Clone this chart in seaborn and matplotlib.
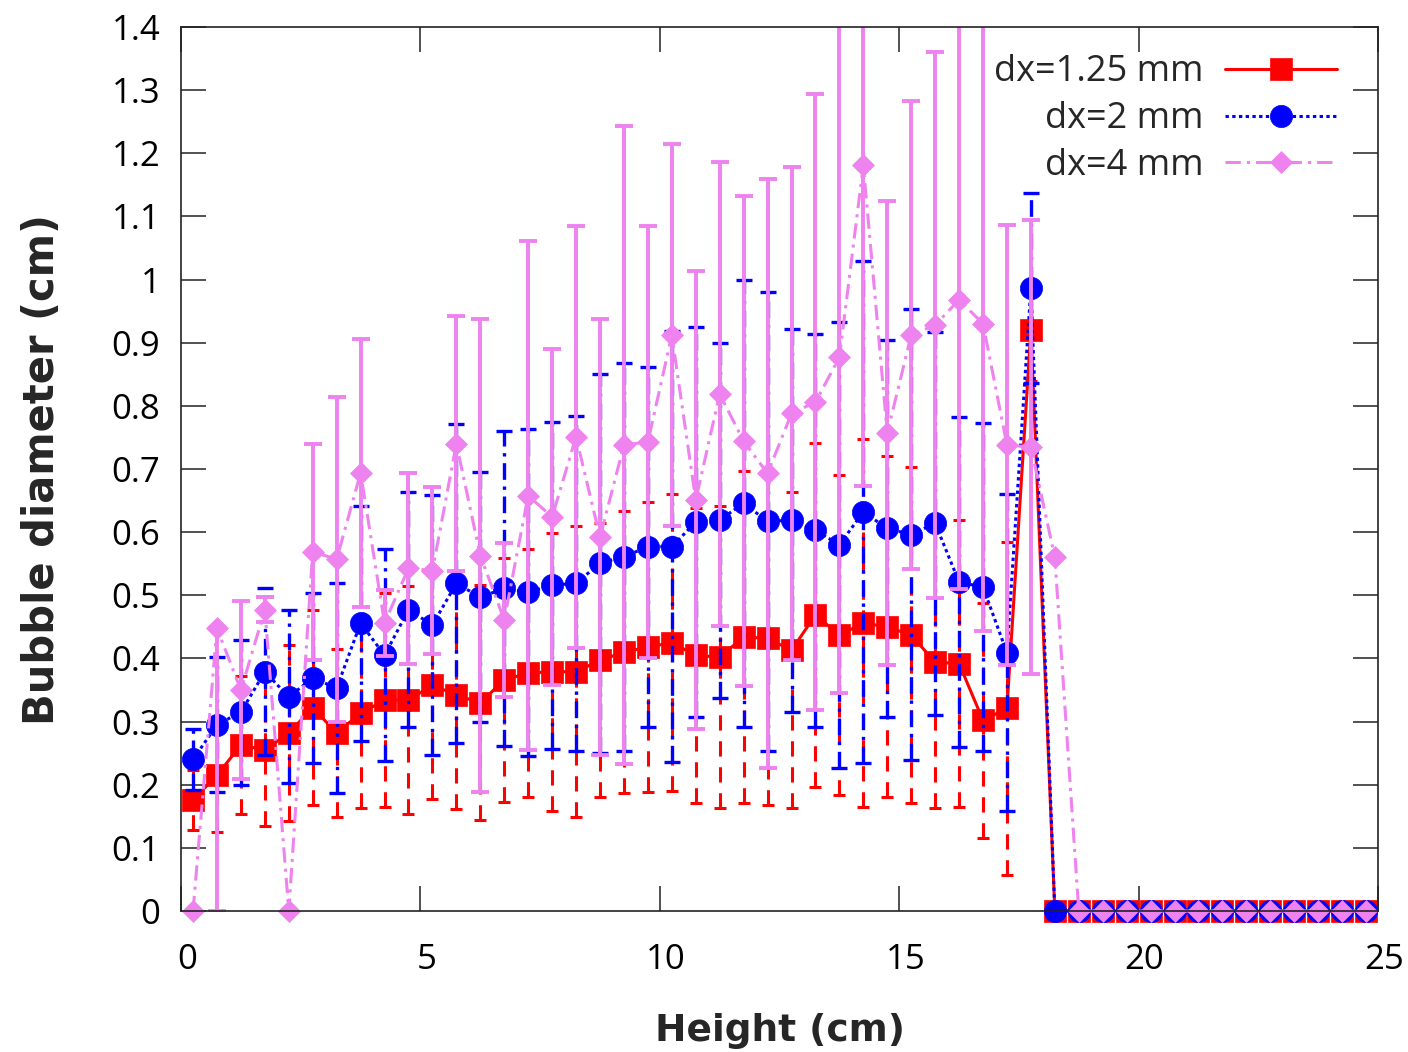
import matplotlib
matplotlib.use("Agg")
import matplotlib.pyplot as plt
import matplotlib.transforms as mtransforms
import numpy as np
import seaborn as sns

# Bubble diameter along the column height, three grid resolutions
height = [0.25, 0.75, 1.25, 1.75, 2.25, 2.75, 3.25, 3.75, 4.25, 4.75,
          5.25, 5.75, 6.25, 6.75, 7.25, 7.75, 8.25, 8.75, 9.25, 9.75,
          10.25, 10.75, 11.25, 11.75, 12.25, 12.75, 13.25, 13.75, 14.25, 14.75,
          15.25, 15.75, 16.25, 16.75, 17.25, 17.75, 18.25, 18.75, 19.25, 19.75,
          20.25, 20.75, 21.25, 21.75, 22.25, 22.75, 23.25, 23.75, 24.25, 24.75]

d125_mean = [0.176, 0.215, 0.263, 0.255, 0.282, 0.322, 0.282, 0.313, 0.334, 0.334,
             0.358, 0.342, 0.330, 0.366, 0.377, 0.379, 0.379, 0.397, 0.410, 0.418,
             0.425, 0.405, 0.402, 0.434, 0.432, 0.413, 0.469, 0.437, 0.456, 0.450,
             0.437, 0.394, 0.392, 0.302, 0.321, 0.920, 0, 0, 0, 0,
             0, 0, 0, 0, 0, 0, 0, 0, 0, 0]
d125_err = [0.048, 0.090, 0.110, 0.120, 0.140, 0.154, 0.133, 0.150, 0.170, 0.180,
            0.180, 0.180, 0.186, 0.193, 0.197, 0.220, 0.230, 0.217, 0.223, 0.229,
            0.235, 0.234, 0.239, 0.263, 0.264, 0.250, 0.273, 0.253, 0.291, 0.270,
            0.266, 0.231, 0.227, 0.186, 0.264, 0.080, 0, 0, 0, 0,
            0, 0, 0, 0, 0, 0, 0, 0, 0, 0]

d2_mean = [0.240, 0.295, 0.315, 0.379, 0.339, 0.369, 0.353, 0.456, 0.405, 0.477,
           0.453, 0.519, 0.497, 0.511, 0.505, 0.516, 0.519, 0.551, 0.561, 0.577,
           0.577, 0.616, 0.619, 0.646, 0.617, 0.619, 0.603, 0.580, 0.632, 0.606,
           0.596, 0.614, 0.521, 0.513, 0.409, 0.987, 0, 0, 0, 0,
           0, 0, 0, 0, 0, 0, 0, 0, 0, 0]
d2_err = [0.049, 0.107, 0.115, 0.132, 0.137, 0.135, 0.166, 0.186, 0.168, 0.186,
          0.206, 0.253, 0.198, 0.250, 0.259, 0.259, 0.265, 0.300, 0.307, 0.285,
          0.341, 0.309, 0.281, 0.354, 0.363, 0.303, 0.311, 0.353, 0.398, 0.299,
          0.357, 0.303, 0.261, 0.260, 0.251, 0.150, 0, 0, 0, 0,
          0, 0, 0, 0, 0, 0, 0, 0, 0, 0]

d4_mean = [0.0, 0.448, 0.350, 0.477, 0.0, 0.569, 0.557, 0.694, 0.456, 0.543,
           0.539, 0.740, 0.563, 0.461, 0.658, 0.624, 0.751, 0.592, 0.738, 0.743,
           0.912, 0.651, 0.819, 0.744, 0.693, 0.788, 0.806, 0.877, 1.181, 0.757,
           0.912, 0.928, 0.968, 0.930, 0.738, 0.735, 0.560, 0, 0, 0,
           0, 0, 0, 0, 0, 0, 0, 0, 0, 0]
d4_err_low = [0, 0.448, 0.141, 0.020, 0, 0.171, 0.257, 0.212, 0.052, 0.151,
              0.132, 0.202, 0.374, 0.122, 0.403, 0.266, 0.334, 0.345, 0.505, 0.342,
              0.303, 0.362, 0.367, 0.388, 0.466, 0.390, 0.488, 0.532, 0.508, 0.367,
              0.371, 0.432, 0.458, 0.487, 0.349, 0.359, 0, 0, 0, 0,
              0, 0, 0, 0, 0, 0, 0, 0, 0, 0]
d4_err_high = [0, 0, 0.141, 0.020, 0, 0.171, 0.257, 0.212, 0.052, 0.151,
               0.132, 0.202, 0.374, 0.122, 0.403, 0.266, 0.334, 0.345, 0.505, 0.342,
               0.303, 0.362, 0.367, 0.388, 0.466, 0.390, 0.488, 0.532, 0.508, 0.367,
               0.371, 0.432, 0.458, 0.487, 0.349, 0.359, 0, 0, 0, 0,
               0, 0, 0, 0, 0, 0, 0, 0, 0, 0]

labels = ["dx=1.25 mm", "dx=2 mm", "dx=4 mm"]

sns.set_style("ticks")
plt.rcParams["font.family"] = ["Open Sans", "DejaVu Sans"]

fig, ax = plt.subplots(figsize=(14.08, 10.52), dpi=100)
fig.subplots_adjust(left=0.1286, right=0.9787, top=0.9743, bottom=0.134)


def add_series(mean, err_lo, err_hi, color, marker, ms, line_ls, eb_ls, eb_lw,
               capsize, label, z):
    x = np.array(height)
    y = np.array(mean)
    lo = np.array(err_lo)
    hi = np.array(err_hi)
    keep = (lo > 0) | (hi > 0)
    eb = ax.errorbar(x[keep], y[keep], yerr=[lo[keep], hi[keep]], fmt="none",
                     ecolor=color, elinewidth=eb_lw, capsize=capsize,
                     capthick=eb_lw, zorder=z)
    eb.lines[2][0].set_linestyle(eb_ls)
    sns.lineplot(x=x, y=y, ax=ax, color=color, marker=marker, markersize=ms,
                 markeredgecolor=color, markeredgewidth=0.5, linestyle=line_ls,
                 linewidth=2.2, sort=False, estimator=None, errorbar=None,
                 label=label, clip_on=False, zorder=z + 0.05)
    return ax.lines[-1]


h1 = add_series(d125_mean, d125_err, d125_err, "#ff0000", "s", 16, "-",
                (0, (5, 3.5)), 2.2, 4, labels[0], 2.0)
h2 = add_series(d2_mean, d2_err, d2_err, "#0000ff", "o", 16, (0, (1.1, 1.1)),
                (0, (5, 2, 1, 2)), 2.4, 5.5, labels[1], 2.1)
h3 = add_series(d4_mean, d4_err_low, d4_err_high, "#ee82ee", "D", 11.3, (0, (5, 2, 1, 2)),
                "-", 2.8, 6.5, labels[2], 2.2)

ax.set_xlim(0, 25)
ax.set_ylim(0, 1.4)
ax.set_xticks([0, 5, 10, 15, 20, 25])
yt = [0, 0.1, 0.2, 0.3, 0.4, 0.5, 0.6, 0.7, 0.8, 0.9, 1, 1.1, 1.2, 1.3, 1.4]
ax.set_yticks(yt)
ax.set_yticklabels([f"{v:g}" for v in yt])
ax.tick_params(direction="in", length=18, width=1.1, top=True, right=True,
               labelsize=25, colors="#222222", labelcolor="black")
ax.tick_params(axis="y", pad=15)
ax.tick_params(axis="x", pad=23)
shift = mtransforms.ScaledTranslation(6 / 100, 0, fig.dpi_scale_trans)
for lbl in ax.get_xticklabels():
    lbl.set_transform(lbl.get_transform() + shift)
for sp in ax.spines.values():
    sp.set_visible(True)
    sp.set_linewidth(1.2)
    sp.set_color("#222222")
    sp.set_zorder(3)

ax.set_xlabel("Height (cm)", fontsize=27, fontweight="bold",
              family="DejaVu Sans", labelpad=26)
ax.set_ylabel("Bubble diameter (cm)", fontsize=30, fontweight="bold",
              family="DejaVu Sans", labelpad=35)

ax.legend([h1, h2, h3], labels, loc="upper right", bbox_to_anchor=(0.966, 0.969),
          frameon=False, markerfirst=False, alignment="right", fontsize=26,
          handlelength=3.1, handletextpad=0.6, labelspacing=0.3, borderpad=0,
          borderaxespad=0)

fig.savefig("out.png", dpi=100)
